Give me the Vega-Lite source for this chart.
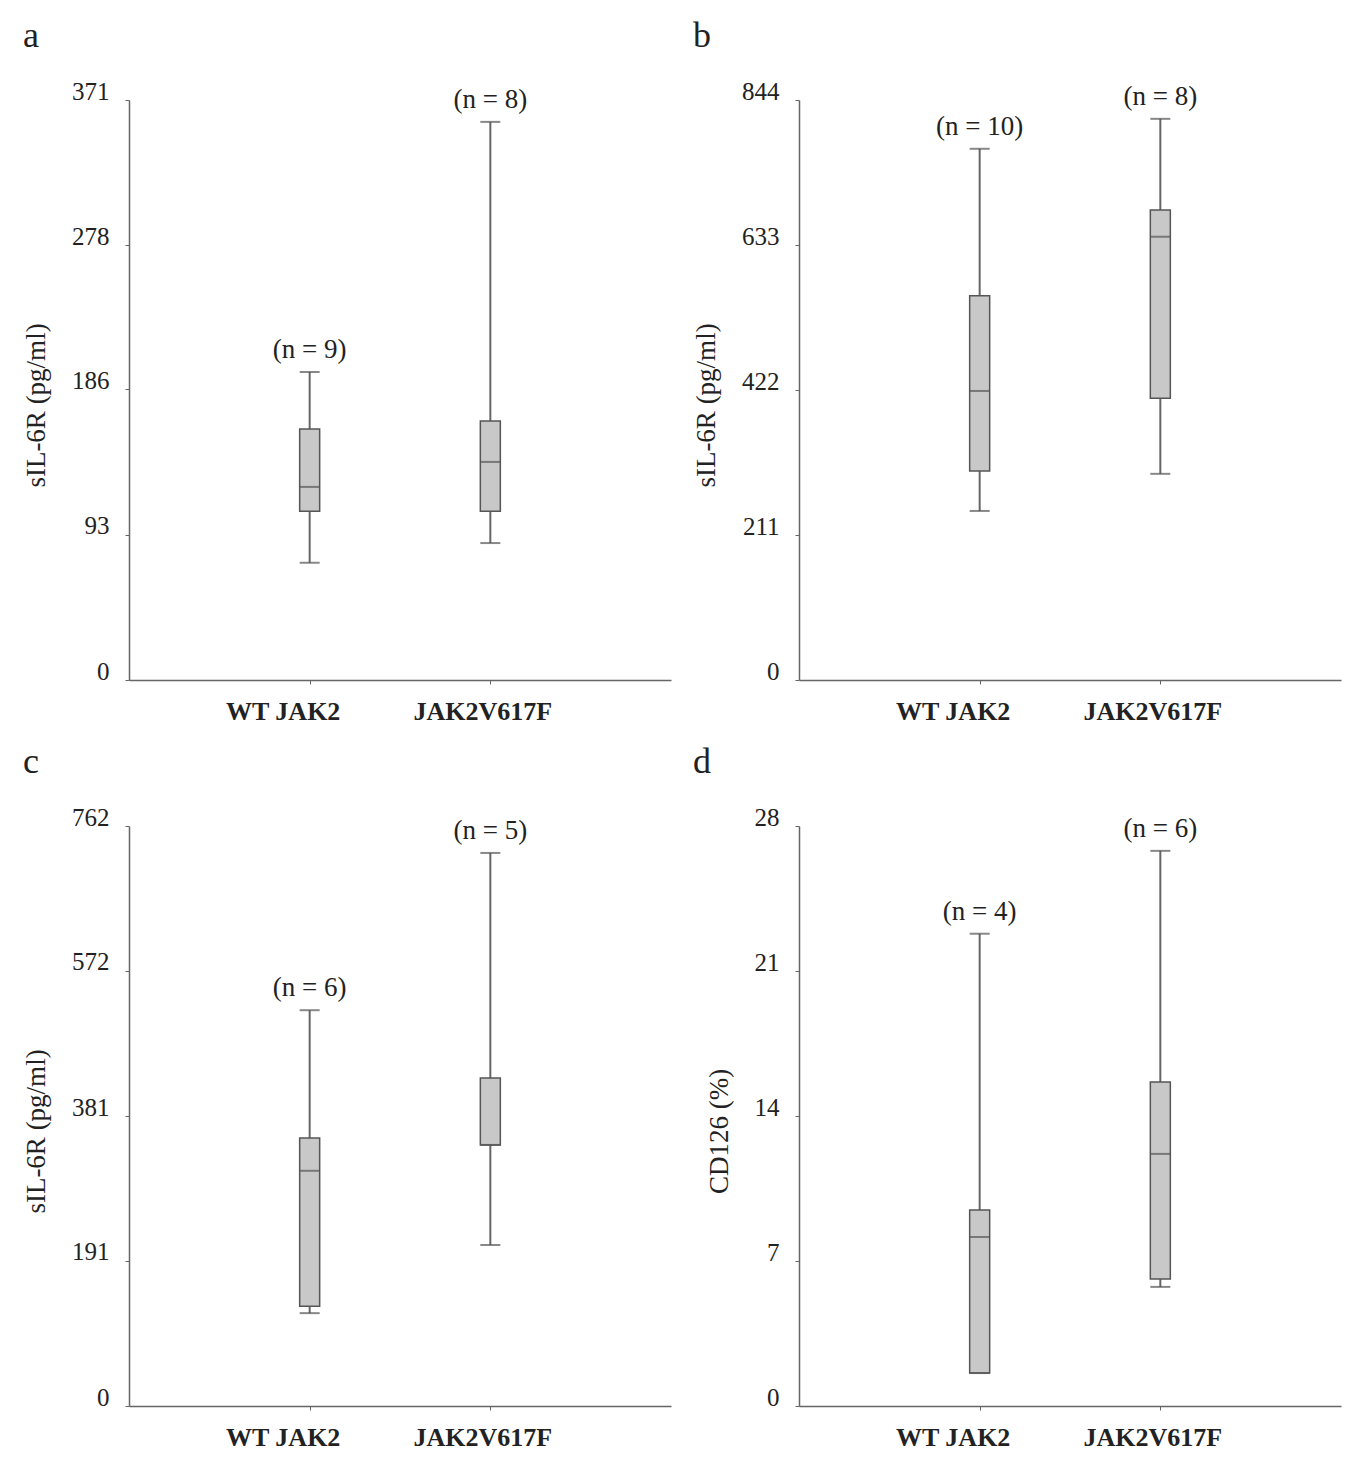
{
  "$schema": "https://vega.github.io/schema/vega-lite/v6.json",
  "background": "white",
  "padding": {"left": 22, "top": 18, "right": 17, "bottom": 20},
  "datasets": {
    "boxes": [
      {"panel": "a", "group": "WT JAK2", "min": 75, "q1": 108, "median": 123.5, "q3": 160.6, "max": 197, "n": "(n = 9)"},
      {"panel": "a", "group": "JAK2V617F", "min": 87.6, "q1": 108, "median": 139.5, "q3": 165.7, "max": 357, "n": "(n = 8)"},
      {"panel": "b", "group": "WT JAK2", "min": 246, "q1": 304, "median": 420.6, "q3": 559, "max": 773, "n": "(n = 10)"},
      {"panel": "b", "group": "JAK2V617F", "min": 300, "q1": 410, "median": 645, "q3": 684, "max": 816.6, "n": "(n = 8)"},
      {"panel": "c", "group": "WT JAK2", "min": 122, "q1": 131, "median": 309, "q3": 352, "max": 520, "n": "(n = 6)"},
      {"panel": "c", "group": "JAK2V617F", "min": 211.5, "q1": 343, "median": 343, "q3": 431, "max": 726.6, "n": "(n = 5)"},
      {"panel": "d", "group": "WT JAK2", "min": 1.59, "q1": 1.59, "median": 8.16, "q3": 9.46, "max": 22.8, "n": "(n = 4)"},
      {"panel": "d", "group": "JAK2V617F", "min": 5.75, "q1": 6.13, "median": 12.17, "q3": 15.64, "max": 26.8, "n": "(n = 6)"}
    ]
  },
  "config": {
    "view": {"stroke": null},
    "font": "Liberation Serif",
    "axis": {
      "grid": false,
      "labelFont": "Liberation Serif",
      "titleFont": "Liberation Serif",
      "labelColor": "#222",
      "titleColor": "#222",
      "domainColor": "#666",
      "domainWidth": 1.5,
      "tickColor": "#666",
      "tickSize": 4
    },
    "axisY": {"labelFontSize": 25, "labelOffset": -9, "labelPadding": 16, "titleFontSize": 27, "titleFontWeight": "normal", "titlePadding": 21, "titleY": 305},
    "axisX": {"labelFontSize": 26, "labelFontWeight": "bold", "labelAngle": 0, "labelPadding": 14, "title": null, "labelOffset": {"condition": {"test": "datum.value === 'WT JAK2'", "value": -27}, "value": -8}},
    "title": {"font": "Liberation Serif", "fontSize": 36, "fontWeight": "normal", "color": "#222", "anchor": "start", "frame": "group", "dx": -106, "offset": 24}
  },
  "columns": 2,
  "spacing": {"row": 146, "column": 128},
  "bounds": "flush",
  "concat": [
    {
      "width": 542, "height": 580,
      "title": "a",
      "data": {"name": "boxes"},
      "transform": [{"filter": "datum.panel === 'a'"}],
      "encoding": {"x": {"field": "group", "type": "nominal", "sort": null, "scale": {"type": "point", "padding": 1, "domain": ["WT JAK2", "JAK2V617F"]}}},
      "layer": [
        {"mark": {"type": "rule", "color": "#666", "strokeWidth": 2}, "encoding": {"y": {"field": "min", "type": "quantitative", "scale": {"domain": [0, 371], "nice": false}, "axis": {"values": [0, 93, 186, 278, 371], "title": "sIL-6R (pg/ml)"}}, "y2": {"field": "max"}}},
        {"mark": {"type": "bar", "size": 20, "fill": "#c8c8c8", "stroke": "#555", "strokeWidth": 1.5}, "encoding": {"y": {"field": "q1", "type": "quantitative"}, "y2": {"field": "q3"}}},
        {"mark": {"type": "tick", "size": 20, "color": "#555", "thickness": 2}, "encoding": {"y": {"field": "median", "type": "quantitative"}}},
        {"mark": {"type": "tick", "size": 20, "color": "#555", "thickness": 2}, "encoding": {"y": {"field": "max", "type": "quantitative"}}},
        {"mark": {"type": "tick", "size": 20, "color": "#555", "thickness": 2}, "encoding": {"y": {"field": "min", "type": "quantitative"}}},
        {"mark": {"type": "text", "dy": -22, "fontSize": 27, "color": "#222", "font": "Liberation Serif"}, "encoding": {"y": {"field": "max", "type": "quantitative"}, "text": {"field": "n"}}}
      ]
    },
    {
      "width": 542, "height": 580,
      "title": "b",
      "data": {"name": "boxes"},
      "transform": [{"filter": "datum.panel === 'b'"}],
      "encoding": {"x": {"field": "group", "type": "nominal", "sort": null, "scale": {"type": "point", "padding": 1, "domain": ["WT JAK2", "JAK2V617F"]}}},
      "layer": [
        {"mark": {"type": "rule", "color": "#666", "strokeWidth": 2}, "encoding": {"y": {"field": "min", "type": "quantitative", "scale": {"domain": [0, 844], "nice": false}, "axis": {"values": [0, 211, 422, 633, 844], "title": "sIL-6R (pg/ml)"}}, "y2": {"field": "max"}}},
        {"mark": {"type": "bar", "size": 20, "fill": "#c8c8c8", "stroke": "#555", "strokeWidth": 1.5}, "encoding": {"y": {"field": "q1", "type": "quantitative"}, "y2": {"field": "q3"}}},
        {"mark": {"type": "tick", "size": 20, "color": "#555", "thickness": 2}, "encoding": {"y": {"field": "median", "type": "quantitative"}}},
        {"mark": {"type": "tick", "size": 20, "color": "#555", "thickness": 2}, "encoding": {"y": {"field": "max", "type": "quantitative"}}},
        {"mark": {"type": "tick", "size": 20, "color": "#555", "thickness": 2}, "encoding": {"y": {"field": "min", "type": "quantitative"}}},
        {"mark": {"type": "text", "dy": -22, "fontSize": 27, "color": "#222", "font": "Liberation Serif"}, "encoding": {"y": {"field": "max", "type": "quantitative"}, "text": {"field": "n"}}}
      ]
    },
    {
      "width": 542, "height": 580,
      "title": "c",
      "data": {"name": "boxes"},
      "transform": [{"filter": "datum.panel === 'c'"}],
      "encoding": {"x": {"field": "group", "type": "nominal", "sort": null, "scale": {"type": "point", "padding": 1, "domain": ["WT JAK2", "JAK2V617F"]}}},
      "layer": [
        {"mark": {"type": "rule", "color": "#666", "strokeWidth": 2}, "encoding": {"y": {"field": "min", "type": "quantitative", "scale": {"domain": [0, 762], "nice": false}, "axis": {"values": [0, 191, 381, 572, 762], "title": "sIL-6R (pg/ml)"}}, "y2": {"field": "max"}}},
        {"mark": {"type": "bar", "size": 20, "fill": "#c8c8c8", "stroke": "#555", "strokeWidth": 1.5}, "encoding": {"y": {"field": "q1", "type": "quantitative"}, "y2": {"field": "q3"}}},
        {"mark": {"type": "tick", "size": 20, "color": "#555", "thickness": 2}, "encoding": {"y": {"field": "median", "type": "quantitative"}}},
        {"mark": {"type": "tick", "size": 20, "color": "#555", "thickness": 2}, "encoding": {"y": {"field": "max", "type": "quantitative"}}},
        {"mark": {"type": "tick", "size": 20, "color": "#555", "thickness": 2}, "encoding": {"y": {"field": "min", "type": "quantitative"}}},
        {"mark": {"type": "text", "dy": -22, "fontSize": 27, "color": "#222", "font": "Liberation Serif"}, "encoding": {"y": {"field": "max", "type": "quantitative"}, "text": {"field": "n"}}}
      ]
    },
    {
      "width": 542, "height": 580,
      "title": "d",
      "data": {"name": "boxes"},
      "transform": [{"filter": "datum.panel === 'd'"}],
      "encoding": {"x": {"field": "group", "type": "nominal", "sort": null, "scale": {"type": "point", "padding": 1, "domain": ["WT JAK2", "JAK2V617F"]}}},
      "layer": [
        {"mark": {"type": "rule", "color": "#666", "strokeWidth": 2}, "encoding": {"y": {"field": "min", "type": "quantitative", "scale": {"domain": [0, 28], "nice": false}, "axis": {"values": [0, 7, 14, 21, 28], "title": "CD126 (%)"}}, "y2": {"field": "max"}}},
        {"mark": {"type": "bar", "size": 20, "fill": "#c8c8c8", "stroke": "#555", "strokeWidth": 1.5}, "encoding": {"y": {"field": "q1", "type": "quantitative"}, "y2": {"field": "q3"}}},
        {"mark": {"type": "tick", "size": 20, "color": "#555", "thickness": 2}, "encoding": {"y": {"field": "median", "type": "quantitative"}}},
        {"mark": {"type": "tick", "size": 20, "color": "#555", "thickness": 2}, "encoding": {"y": {"field": "max", "type": "quantitative"}}},
        {"mark": {"type": "tick", "size": 20, "color": "#555", "thickness": 2}, "encoding": {"y": {"field": "min", "type": "quantitative"}}},
        {"mark": {"type": "text", "dy": -22, "fontSize": 27, "color": "#222", "font": "Liberation Serif"}, "encoding": {"y": {"field": "max", "type": "quantitative"}, "text": {"field": "n"}}}
      ]
    }
  ]
}
